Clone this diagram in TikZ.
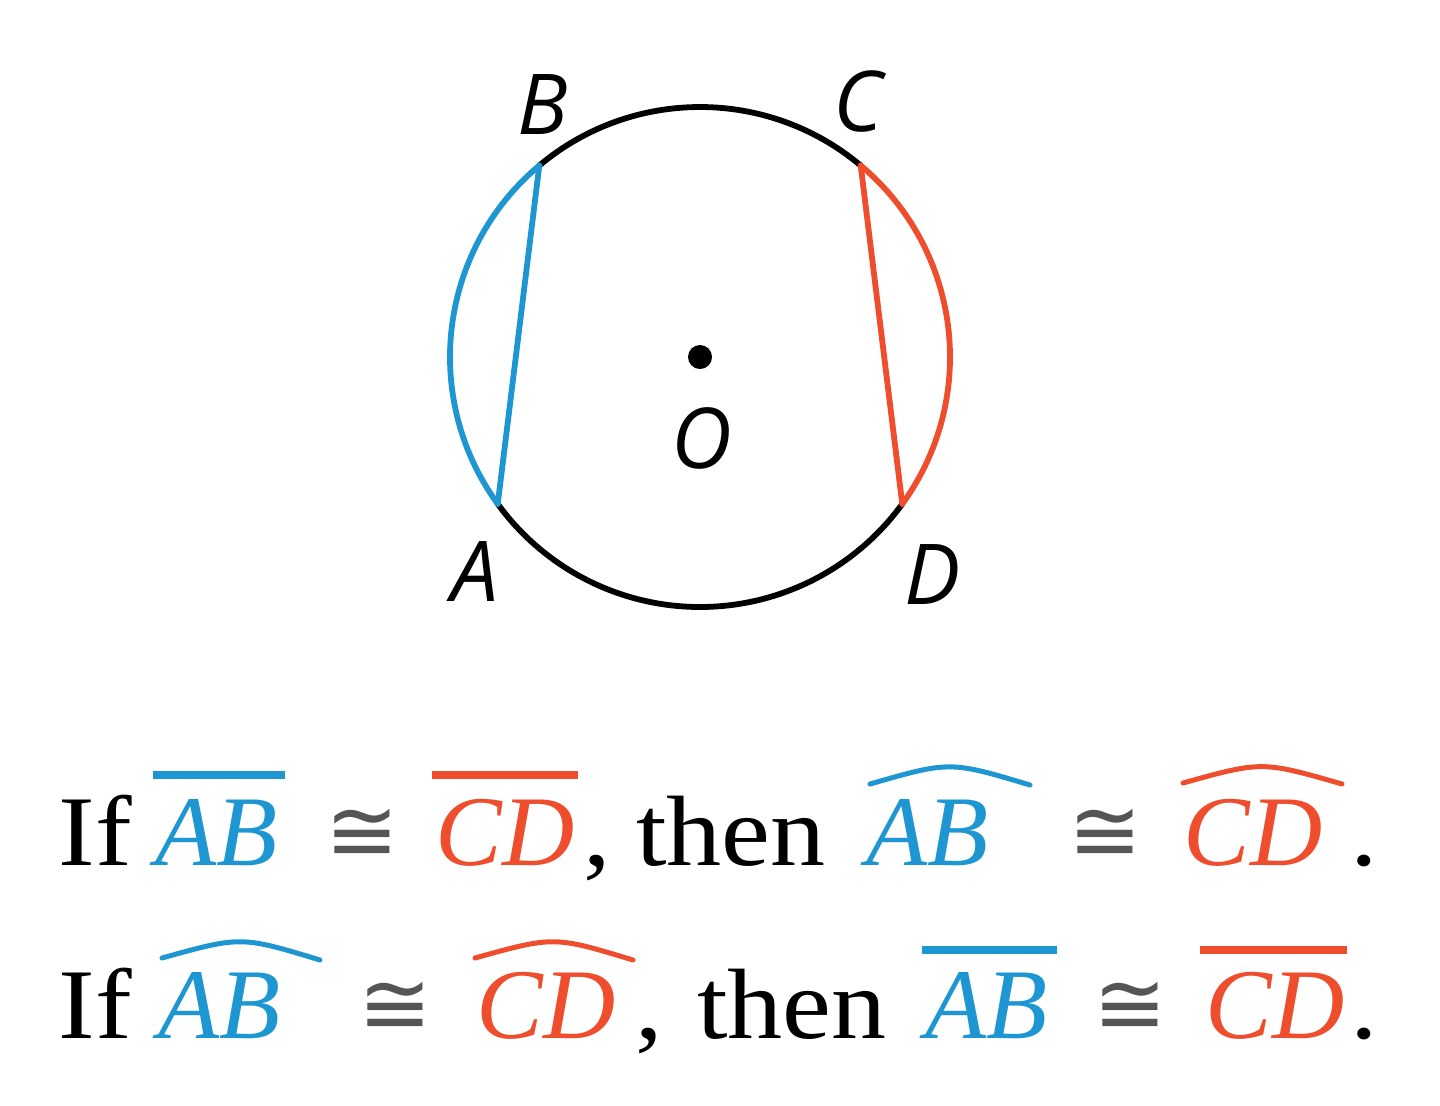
\documentclass[tikz,border=0pt]{standalone}
\usepackage{fontspec}
\usetikzlibrary{calc}
\setmainfont{Liberation Serif}
\newfontfamily\uprt{Liberation Serif}[FakeStretch=1.1]
\newfontfamily\lblf{Open Sans}
\newfontfamily\symf{DejaVu Sans}
\definecolor{arcblue}{RGB}{30,150,210}
\definecolor{arcred}{RGB}{238,78,45}
\definecolor{congray}{RGB}{85,85,85}
\begin{document}
\begin{tikzpicture}[x=0.5pt,y=-0.5pt,
  up/.style={inner sep=0pt, anchor=base west, font=\uprt\fontsize{50}{60}\selectfont},
  it/.style={inner sep=0pt, anchor=base west, font=\itshape\fontsize{50}{60}\selectfont},
  cng/.style={inner sep=0pt, anchor=base, text=congray, font=\symf\fontsize{44}{52}\selectfont},
  lbl/.style={inner sep=0pt, font=\lblf\itshape\fontsize{42}{50}\selectfont},
  circ/.style={line width=2.9pt, line cap=round, line join=round},
  bar/.style={line width=4pt},
  hat/.style={line width=2.5pt, line cap=round}]
\useasboundingbox (0,0) rectangle (1440,1105);
% circle
\coordinate (O) at (700,357);
\coordinate (A) at ($(O)+(144:250)$);
\coordinate (B) at ($(O)+(-130:250)$);
\coordinate (C) at ($(O)+(-50:250)$);
\coordinate (D) at ($(O)+(36:250)$);
\draw[circ] (B) arc[start angle=-130, end angle=-50, radius=250];
\draw[circ] (A) arc[start angle=144, end angle=36, radius=250];
\draw[circ, arcblue] (B) arc[start angle=-130, end angle=-216, radius=250];
\draw[circ, arcred] (C) arc[start angle=-50, end angle=36, radius=250];
\draw[circ, arcblue] (A) -- (B);
\draw[circ, arcred] (C) -- (D);
\fill (O) circle[radius=12];
\node[lbl] (lA) at (475,572) {A};
\node[lbl] (lB) at (543,105) {B};
\node[lbl] (lC) at (858,101) {C};
\node[lbl] (lD) at (933,575) {D};
\node[lbl] (lO) at (702,438) {O};
% line 1
\node[up] (if1) at (58,865) {If};
\node[it, text=arcblue] (ab1) at (155,865) {AB};
\node[cng] (c1) at (362,861) {≅};
\node[it, text=arcred] (cd1) at (435,865) {CD};
\node[up] (comma1) at (583,865) {,};
\node[up] (then1) at (636,865) {then};
\node[it, text=arcblue] (ab2) at (866,865) {AB};
\node[cng] (c2) at (1105,861) {≅};
\node[it, text=arcred] (cd2) at (1183,865) {CD};
\node[up] (dot1) at (1350,865) {.};
\draw[bar, arcblue] (153,775) -- (285,775);
\draw[bar, arcred] (432,775) -- (578,775);
\draw[hat, arcblue] (870,784) .. controls (950,761) .. (1030,785);
\draw[hat, arcred] (1183,783) .. controls (1262,761) .. (1342,784);
% line 2
\node[up] (if2) at (58,1038) {If};
\node[it, text=arcblue] (ab3) at (158,1038) {AB};
\node[cng] (c3) at (395,1034) {≅};
\node[it, text=arcred] (cd3) at (476,1038) {CD};
\node[up] (comma2) at (635,1038) {,};
\node[up] (then2) at (697,1038) {then};
\node[it, text=arcblue] (ab4) at (925,1038) {AB};
\node[cng] (c4) at (1130,1034) {≅};
\node[it, text=arcred] (cd4) at (1205,1038) {CD};
\node[up] (dot2) at (1350,1038) {.};
\draw[hat, arcblue] (162,958) .. controls (241,936) .. (320,960);
\draw[hat, arcred] (475,958) .. controls (554,936) .. (633,960);
\draw[bar, arcblue] (922,950) -- (1057,950);
\draw[bar, arcred] (1200,950) -- (1347,950);
\end{tikzpicture}
\end{document}
